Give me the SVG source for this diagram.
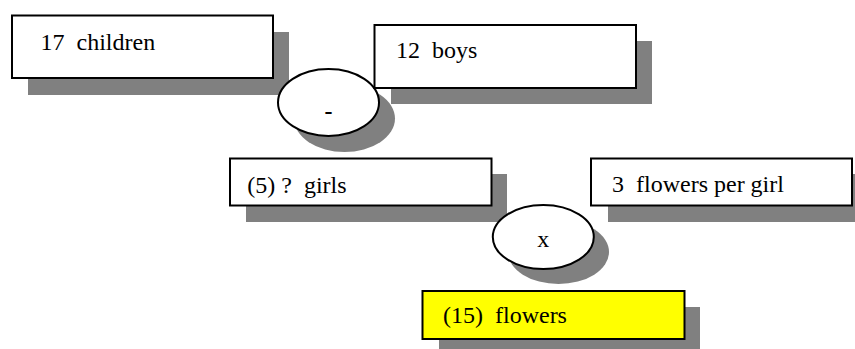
<svg xmlns="http://www.w3.org/2000/svg" width="855" height="349" viewBox="0 0 855 349">
<style>
.sh{fill:#808080}
.bx{fill:#fff;stroke:#000;stroke-width:2}
text{font-family:'Liberation Serif','Times New Roman','DejaVu Serif',serif;font-size:24px;fill:#000;white-space:pre}
</style>
<rect width="855" height="349" fill="#fff"/>
<g id="n1">
<rect class="sh" x="28" y="32" width="261" height="63"/>
<rect class="bx" x="12" y="15.5" width="261" height="62.5"/>
<text font-family="Liberation Serif, serif" x="40.5" y="50" xml:space="preserve">17  children</text>
</g>
<g id="op1">
<ellipse class="sh" cx="344.5" cy="118.5" rx="50.5" ry="33.5"/>
<ellipse class="bx" cx="328.5" cy="102.5" rx="50.5" ry="33.5"/>
<text font-family="Liberation Sans, Arial, sans-serif" font-size="32" x="328.5" y="118.5" text-anchor="middle" font-weight="bold">-</text>
</g>
<g id="n2">
<rect class="sh" x="391" y="41" width="261" height="63"/>
<rect class="bx" x="374.5" y="25" width="261.5" height="63"/>
<text font-family="Liberation Serif, serif" x="396" y="58" xml:space="preserve">12  boys</text>
</g>
<g id="n3">
<rect class="sh" x="246" y="174" width="261" height="48"/>
<rect class="bx" x="230" y="158.5" width="261.5" height="47"/>
<text font-family="Liberation Serif, serif" x="247.3" y="193" xml:space="preserve">(5) ?  girls</text>
</g>
<g id="n4">
<rect class="sh" x="608" y="174" width="261" height="48"/>
<rect class="bx" x="591" y="158.5" width="261" height="47"/>
<text font-family="Liberation Serif, serif" x="612" y="192" xml:space="preserve">3  flowers per girl</text>
</g>
<g id="op2">
<ellipse class="sh" cx="558.5" cy="252" rx="50.5" ry="32"/>
<ellipse class="bx" cx="543.3" cy="237" rx="50.5" ry="32"/>
<text font-family="Liberation Serif, serif" x="543.3" y="246.5" text-anchor="middle">x</text>
</g>
<g id="n5">
<rect class="sh" x="439" y="307" width="261" height="48"/>
<rect class="bx" x="422.5" y="291" width="262" height="48" style="fill:#ffff00"/>
<text font-family="Liberation Serif, serif" x="443" y="323" xml:space="preserve">(15)  flowers</text>
</g>
<g id="connectors"></g>
</svg>
